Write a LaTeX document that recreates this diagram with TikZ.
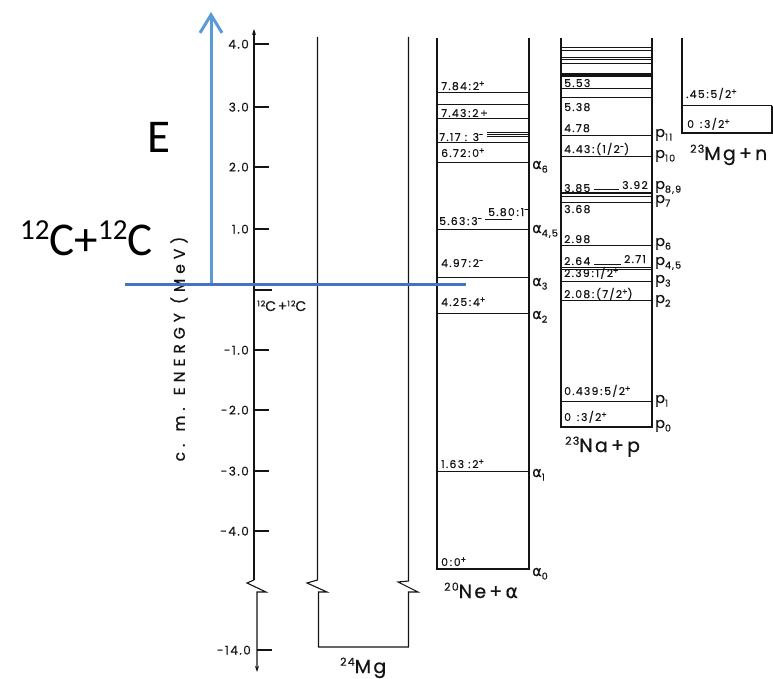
\documentclass[tikz,border=0pt]{standalone}
\usepackage{fontspec}
\usetikzlibrary{arrows.meta}
\newfontfamily\lettr[LetterSpace=12,FakeBold=0.6]{Poppins}
\newfontfamily\lettrwide[LetterSpace=32,FakeBold=0.6]{Poppins}
\newfontfamily\greekf[FakeBold=0.6]{DejaVu Sans}
\newfontfamily\calib{Carlito}
\newcommand\spr[1]{\raisebox{0.6ex}{\fontsize{8}{8}\selectfont #1}}
\newcommand\bsup[1]{\raisebox{0.7ex}{\fontsize{11}{11}\selectfont #1}}
\newcommand\sbs[1]{\raisebox{-0.45ex}{\fontsize{9.5}{9.5}\selectfont #1}}
\definecolor{bluev}{RGB}{91,155,213}
\definecolor{blueh}{RGB}{68,114,196}
\definecolor{ink}{RGB}{20,20,20}
\begin{document}
\begin{tikzpicture}[x=1pt,y=-1pt,
  col/.style={line width=1.1pt,draw=ink,line join=miter},
  lv/.style={line width=1pt,draw=ink},
  lbl/.style={font=\lettr\fontsize{10.8}{11}\selectfont,inner sep=0pt,anchor=base west,text=ink},
  ticklbl/.style={font=\lettr\fontsize{12}{12}\selectfont,inner sep=0pt,anchor=base east,text=ink},
  chan/.style={font=\lettr\fontsize{14.5}{14.5}\selectfont,inner sep=0pt,anchor=base west,text=ink},
  biglbl/.style={font=\lettr\fontsize{19}{19}\selectfont,inner sep=0pt,anchor=base west,text=ink},
  callbl/.style={font=\calib\fontsize{47}{47}\selectfont,inner sep=0pt,anchor=base west,text=black}]
\useasboundingbox (0,0) rectangle (773,679);

% ---------- energy axis ----------
\draw[col,-{Stealth[length=6pt,width=4pt]}] (254,580) -- (254,29);
\draw[col,-{Stealth[length=6pt,width=4pt]}] (254,580) -- (247,583) -- (266,592) -- (257,592) -- (257,672);
\foreach \y/\t/\n in {44/4.0/a,107/3.0/b,167/2.0/c,229/1.0/d}{
  \draw[col] (254,\y) -- (269,\y);
  \node[ticklbl] (tk\n) at (249,\y+4.5) {\t};
}
\foreach \y/\t/\n in {350/-1.0/e,410/-2.0/f,471/-3.0/g,531/-4.0/h}{
  \draw[col] (254,\y) -- (269,\y);
  \node[ticklbl] (tk\n) at (249,\y+4.5) {\t};
}
\draw[col] (257,650) -- (272,650);
\node[ticklbl] (tki) at (251,654.5) {-14.0};
\draw[col] (255,290) -- (272,290);
\node[lbl,font=\lettr\fontsize{14}{14}\selectfont] (cc0) at (257,311) {\spr{12}C+\spr{12}C};
\node[rotate=90,font=\lettrwide\fontsize{15.5}{15.5}\selectfont,text=ink,inner sep=0pt] (ylab) at (179,349) {c. m. ENERGY (MeV)};

% ---------- 24Mg column ----------
\draw[col] (317.5,37) -- (317.5,580) -- (307,583) -- (327,592) -- (318.5,592) -- (318.5,647)
  -- (408.5,647) -- (408.5,592) -- (418,592) -- (398,582) -- (408.5,581) -- (408.5,37);
\node[biglbl] (mg24) at (340,673) {\bsup{24}Mg};

% ---------- 20Ne + alpha column ----------
\draw[col] (437,38) -- (437,569) -- (529,569) -- (529,38);
\foreach \y in {93,105,119,143,163,229,277,313,471}
  \draw[lv] (437,\y) -- (529,\y);
\foreach \y in {132,134.2,136.4}
  \draw[lv,line width=0.8pt] (487,\y) -- (529,\y);
\draw[lv] (485,219) -- (512,219);
\node[lbl] (ne1) at (441,90) {7.84\,:\,2\spr{+}};
\node[lbl] (ne2) at (441,117) {7.43\,:\,2\,+};
\node[lbl] (ne3) at (439,141) {7.17 : 3\spr{-}};
\node[lbl] (ne4) at (441,157) {6.72\,:\,0\spr{+}};
\node[lbl] (ne5) at (488,216) {5.80\,:\,1\spr{-}};
\node[lbl] (ne6) at (439,225) {5.63\,:\,3\spr{-}};
\node[lbl] (ne7) at (441,267) {4.97\,:\,2\spr{-}};
\node[lbl] (ne8) at (441,306) {4.25\,:\,4\spr{+}};
\node[lbl] (ne9) at (441,468) {1.63 :\,2\spr{+}};
\node[lbl] (ne10) at (441,566) {0\,:\,0\spr{+}};
\node[chan] (a6) at (532,169) {{\greekf α}\sbs{6}};
\node[chan] (a45) at (532,233) {{\greekf α}\sbs{4,5}};
\node[chan] (a3) at (532,286) {{\greekf α}\sbs{3}};
\node[chan] (a2) at (532,319) {{\greekf α}\sbs{2}};
\node[chan] (a1) at (532,477) {{\greekf α}\sbs{1}};
\node[chan] (a0) at (532,576) {{\greekf α}\sbs{0}};
\node[biglbl] (nea) at (444,598) {\bsup{20}Ne\,+\,{\greekf α}};

% ---------- 23Na + p column ----------
\draw[col] (561,38) -- (561,427) -- (652,427) -- (652,38);
\foreach \y in {48,51,58,60,64,89,98,136,157,193,196,202,245,267,269,281,300,401}
  \draw[lv] (561,\y) -- (652,\y);
\draw[line width=3.5pt,draw=ink] (561,75) -- (652,75);
\draw[lv] (594,190) -- (619,190);
\draw[lv] (594,264) -- (621,264);
\node[lbl] (na1) at (564,87) {5.53};
\node[lbl] (na2) at (564,111) {5.38};
\node[lbl] (na3) at (564,132) {4.78};
\node[lbl] (na4) at (564,153) {4.43\,:\,(1/2\spr{-})};
\node[lbl] (na5) at (564,192) {3.85};
\node[lbl] (na6) at (622,189) {3.92};
\node[lbl] (na7) at (564,213) {3.68};
\node[lbl] (na8) at (564,243) {2.98};
\node[lbl] (na9) at (564,265) {2.64};
\node[lbl] (na10) at (624,263) {2.71};
\node[lbl] (na11) at (564,277) {2.39\,:\,1/2\spr{+}};
\node[lbl] (na12) at (564,298) {2.08\,:\,(7/2\spr{+})};
\node[lbl] (na13) at (564,395) {0.439\,:\,5/2\spr{+}};
\node[lbl] (na14) at (564,421) {0 \,:\,3/2\spr{+}};
\node[chan] (p11) at (655,137) {p\sbs{11}};
\node[chan] (p10) at (655,158) {p\sbs{10}};
\node[chan] (p89) at (655,189) {p\sbs{8,9}};
\node[chan] (p7) at (655,203) {p\sbs{7}};
\node[chan] (p6) at (655,246) {p\sbs{6}};
\node[chan] (p45) at (655,265) {p\sbs{4,5}};
\node[chan] (p3) at (655,283) {p\sbs{3}};
\node[chan] (p2) at (655,303) {p\sbs{2}};
\node[chan] (p1) at (655,403) {p\sbs{1}};
\node[chan] (p0) at (655,428) {p\sbs{0}};
\node[biglbl] (nap) at (565,452) {\bsup{23}Na\,+\,p};

% ---------- 23Mg + n column ----------
\draw[col] (682,38) -- (682,133) -- (772,133) -- (772,106);
\draw[lv] (682,106) -- (772,106);
\node[lbl] (mn1) at (686,98) {.45\,:\,5/2\spr{+}};
\node[lbl] (mn2) at (687,128) {0 \,:\,3/2\spr{+}};
\node[biglbl] (mgn) at (690,160) {\bsup{23}Mg\,+\,n};

% ---------- blue overlay ----------
\draw[line width=3pt,draw=bluev,-{Straight Barb[length=18pt,width=22pt,line width=3pt]}] (211,284) -- (211,12);
\draw[line width=3pt,draw=blueh] (125,284) -- (466,284);
\node[callbl] (E) at (147,153) {E};
\node[callbl] (cc) at (20,255) {\raisebox{16pt}{\fontsize{29}{29}\selectfont 12}C+\raisebox{16pt}{\fontsize{29}{29}\selectfont 12}C};
\end{tikzpicture}
\end{document}
